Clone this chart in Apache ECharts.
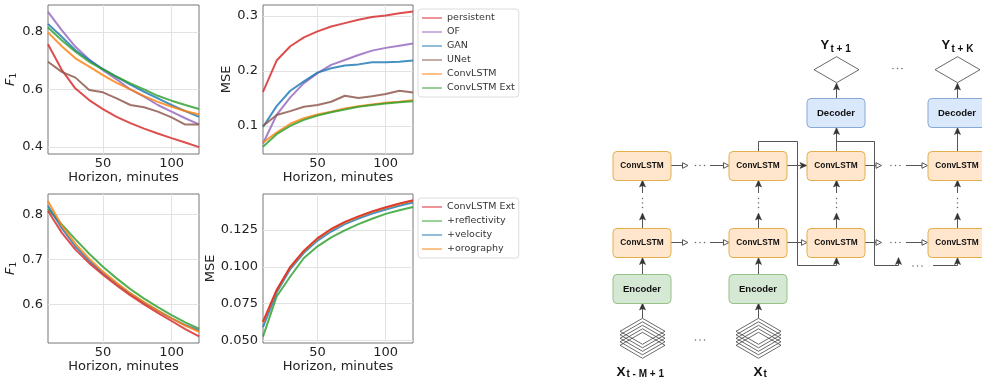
<!DOCTYPE html>
<html>
<head>
<meta charset="utf-8">
<script src="https://cdn.jsdelivr.net/npm/echarts@6/dist/echarts.min.js"></script>
<style>html,body{margin:0;padding:0;background:#fff;}#c{width:982px;height:380px;}</style>
</head>
<body>
<div id="c"></div>
<script>
// ---------------- DATA ----------------
const horizons = [10, 20, 30, 40, 50, 60, 70, 80, 90, 100, 110, 120];
const xTickValues = [50, 100];

const modelNames = ['persistent', 'OF', 'GAN', 'UNet', 'ConvLSTM', 'ConvLSTM Ext'];
const modelColors = ['#d62728', '#9467bd', '#1f77b4', '#8c564b', '#ff7f0e', '#2ca02c'];

const f1Persistent = [0.757, 0.668, 0.603, 0.563, 0.532, 0.505, 0.483, 0.464, 0.447, 0.431, 0.416, 0.400];
const f1OF         = [0.869, 0.806, 0.748, 0.704, 0.667, 0.635, 0.600, 0.575, 0.546, 0.523, 0.500, 0.479];
const f1GAN        = [0.827, 0.783, 0.736, 0.702, 0.671, 0.644, 0.617, 0.592, 0.569, 0.546, 0.525, 0.505];
const f1UNet       = [0.696, 0.661, 0.641, 0.598, 0.590, 0.569, 0.546, 0.538, 0.523, 0.503, 0.478, 0.478];
const f1ConvLSTM   = [0.798, 0.750, 0.708, 0.679, 0.650, 0.623, 0.600, 0.577, 0.557, 0.540, 0.525, 0.513];
const f1ConvExt    = [0.815, 0.771, 0.731, 0.696, 0.670, 0.644, 0.621, 0.600, 0.578, 0.561, 0.546, 0.532];

const msePersistent = [0.162, 0.219, 0.245, 0.261, 0.272, 0.281, 0.287, 0.293, 0.298, 0.301, 0.305, 0.308];
const mseOF         = [0.068, 0.120, 0.152, 0.178, 0.196, 0.211, 0.220, 0.229, 0.237, 0.242, 0.246, 0.250];
const mseGAN        = [0.098, 0.136, 0.164, 0.181, 0.197, 0.205, 0.210, 0.212, 0.216, 0.216, 0.217, 0.219];
const mseUNet       = [0.100, 0.120, 0.127, 0.135, 0.138, 0.144, 0.155, 0.151, 0.154, 0.158, 0.164, 0.161];
const mseConvLSTM   = [0.070, 0.088, 0.104, 0.114, 0.121, 0.126, 0.132, 0.136, 0.139, 0.142, 0.144, 0.147];
const mseConvExt    = [0.062, 0.085, 0.100, 0.111, 0.119, 0.125, 0.130, 0.135, 0.138, 0.141, 0.143, 0.145];

const ablationNames = ['ConvLSTM Ext', '+reflectivity', '+velocity', '+orography'];
const ablationColors = ['#d62728', '#2ca02c', '#1f77b4', '#ff7f0e'];

const f1AblExt   = [0.808, 0.760, 0.722, 0.692, 0.666, 0.642, 0.620, 0.600, 0.581, 0.563, 0.545, 0.529];
const f1AblRefl  = [0.813, 0.778, 0.745, 0.713, 0.684, 0.658, 0.634, 0.613, 0.594, 0.576, 0.560, 0.546];
const f1AblVel   = [0.820, 0.770, 0.729, 0.697, 0.670, 0.646, 0.624, 0.604, 0.586, 0.569, 0.554, 0.542];
const f1AblOro   = [0.830, 0.776, 0.735, 0.702, 0.673, 0.648, 0.625, 0.605, 0.586, 0.569, 0.553, 0.539];

const mseAblExt  = [0.0627, 0.0843, 0.1000, 0.1110, 0.1195, 0.1257, 0.1305, 0.1343, 0.1377, 0.1405, 0.1430, 0.1452];
const mseAblRefl = [0.0525, 0.0798, 0.0934, 0.1060, 0.1139, 0.1200, 0.1248, 0.1290, 0.1327, 0.1360, 0.1384, 0.1407];
const mseAblVel  = [0.0590, 0.0825, 0.0985, 0.1095, 0.1178, 0.1240, 0.1290, 0.1328, 0.1362, 0.1390, 0.1415, 0.1437];
const mseAblOro  = [0.0620, 0.0840, 0.0997, 0.1107, 0.1192, 0.1254, 0.1302, 0.1340, 0.1374, 0.1402, 0.1427, 0.1449];

const yTicksF1Top = [0.4, 0.6, 0.8];
const yTicksMseTop = [0.1, 0.2, 0.3];
const yTicksF1Bot = [0.6, 0.7, 0.8];
const yTicksMseBot = [0.050, 0.075, 0.100, 0.125];

// ---------------- CHART ----------------
const FONT = 'DejaVu Sans';
const grids = [
  {left: 48, top: 5, width: 151, height: 149},
  {left: 263, top: 5, width: 150, height: 149},
  {left: 48, top: 194, width: 151, height: 149},
  {left: 263, top: 194, width: 150, height: 149}
];
const yCfg = [
  {min: 0.376, max: 0.893, ticks: yTicksF1Top, dec: 1, f1: true, gap: 28},
  {min: 0.049, max: 0.320, ticks: yTicksMseTop, dec: 1, f1: false, gap: 27},
  {min: 0.514, max: 0.846, ticks: yTicksF1Bot, dec: 1, f1: true, gap: 28},
  {min: 0.0482, max: 0.1495, ticks: yTicksMseBot, dec: 3, f1: false, gap: 44}
];

function mkSeries(name, color, vals, gi, z) {
  return {
    type: 'line', name: name, xAxisIndex: gi, yAxisIndex: gi,
    data: horizons.map((h, i) => [h, vals[i]]),
    showSymbol: false, symbol: 'none', silent: true, z: z,
    color: color,
    lineStyle: {color: color, width: 2, opacity: 0.82},
    emphasis: {disabled: true}
  };
}

const series = [];
const topF1 = [f1Persistent, f1OF, f1GAN, f1UNet, f1ConvLSTM, f1ConvExt];
const topMse = [msePersistent, mseOF, mseGAN, mseUNet, mseConvLSTM, mseConvExt];
modelNames.forEach((n, i) => series.push(mkSeries(n, modelColors[i], topF1[i], 0, 2 + i)));
modelNames.forEach((n, i) => series.push(mkSeries(n, modelColors[i], topMse[i], 1, 2 + i)));
const botF1 = [f1AblExt, f1AblRefl, f1AblVel, f1AblOro];
const botMse = [mseAblExt, mseAblRefl, mseAblVel, mseAblOro];
const botZ = [9, 3, 4, 5];
ablationNames.forEach((n, i) => series.push(mkSeries(n, ablationColors[i], botF1[i], 2, botZ[i])));
ablationNames.forEach((n, i) => series.push(mkSeries(n, ablationColors[i], botMse[i], 3, botZ[i])));

const TXT = '#222';
const xAxes = grids.map((g, i) => ({
  type: 'value', gridIndex: i, min: 10, max: 120,
  axisLine: {show: false},
  axisTick: {show: false, customValues: xTickValues},
  axisLabel: {customValues: xTickValues, margin: 3, fontSize: 13, color: TXT, fontFamily: FONT},
  splitLine: {show: true, lineStyle: {color: '#e2e2e2', width: 1}},
  name: 'Horizon, minutes', nameLocation: 'middle', nameGap: 17,
  nameTextStyle: {fontSize: 13, color: TXT, fontFamily: FONT}
}));
const yAxes = yCfg.map((c, i) => ({
  type: 'value', gridIndex: i, min: c.min, max: c.max,
  axisLine: {show: false},
  axisTick: {show: false, customValues: c.ticks},
  axisLabel: {customValues: c.ticks, margin: 5, fontSize: 13, color: TXT, fontFamily: FONT,
    formatter: v => v.toFixed(c.dec)},
  splitLine: {show: true, lineStyle: {color: '#e2e2e2', width: 1}},
  name: c.f1 ? '{i|F}{s|1}' : 'MSE', nameLocation: 'middle', nameGap: c.gap,
  nameTextStyle: c.f1 ? {
    color: TXT, fontFamily: FONT,
    rich: {
      i: {fontSize: 13, fontStyle: 'italic', fontFamily: FONT, color: TXT, lineHeight: 16},
      s: {fontSize: 9, fontFamily: FONT, color: TXT, lineHeight: 9, verticalAlign: 'bottom', padding: [0, 0, 0, 0]}
    }
  } : {fontSize: 13, color: TXT, fontFamily: FONT}
}));

function mkLegend(names, colors, top) {
  return {
    orient: 'vertical', left: 418, top: top, padding: [3, 4, 3, 4],
    itemGap: 2, itemWidth: 20, itemHeight: 1.5, icon: 'rect',
    backgroundColor: '#fff', borderColor: '#dcdcdc', borderWidth: 1, borderRadius: 3,
    selectedMode: false,
    textStyle: {fontSize: 9.5, color: '#333', lineHeight: 12, fontFamily: FONT},
    data: names.map((n, i) => ({name: n, icon: 'rect', itemStyle: {color: colors[i], opacity: 0.65, borderWidth: 0}}))
  };
}

// ---------------- DIAGRAM (decoration) ----------------
const G = [];
const LC = '#555', HC = '#333';
function line(pts) { G.push({type: 'polyline', shape: {points: pts}, style: {stroke: LC, lineWidth: 1, fill: 'none'}, z: 1}); }
function headUp(x, y) { G.push({type: 'polygon', shape: {points: [[x, y], [x - 3, y + 7], [x, y + 5.5], [x + 3, y + 7]]}, style: {fill: HC, stroke: HC, lineWidth: 0.5}, z: 3}); }
function headRight(x, y, open) {
  if (open) G.push({type: 'polygon', shape: {points: [[x, y], [x - 5.5, y - 2.8], [x - 5.5, y + 2.8]]}, style: {fill: '#fff', stroke: LC, lineWidth: 1}, z: 3});
  else G.push({type: 'polygon', shape: {points: [[x, y], [x - 7, y - 3], [x - 5.5, y], [x - 7, y + 3]]}, style: {fill: HC, stroke: HC, lineWidth: 0.5}, z: 3});
}
function dotsH(x, y) { for (let i = 0; i < 3; i++) G.push({type: 'circle', shape: {cx: x + i * 4.5, cy: y, r: 0.75}, style: {fill: '#666'}, z: 2}); }
function dotsV(x, y) { for (let i = 0; i < 3; i++) G.push({type: 'circle', shape: {cx: x, cy: y + i * 4.5, r: 0.75}, style: {fill: '#666'}, z: 2}); }
function txt(x, y, s, size, align) {
  G.push({type: 'text', x: x, y: y, z: 6, style: {text: s, font: 'bold ' + size + 'px "Liberation Sans", Arial, sans-serif', fontWeight: 'bold', fontSize: size, fontFamily: '"Liberation Sans", Arial, sans-serif', fill: '#111', align: align || 'center', textAlign: align || 'center', verticalAlign: 'middle', textVerticalAlign: 'middle'}});
}
function box(cx, y, fill, stroke, label, fs) {
  G.push({type: 'rect', shape: {x: cx - 29, y: y + 0.5, width: 58, height: 29, r: 4}, style: {fill: fill, stroke: stroke, lineWidth: 1}, z: 5});
  txt(cx, y + 15, label, fs);
}
function diamond(cx, cy) {
  G.push({type: 'polygon', shape: {points: [[cx, cy - 13], [cx + 22.5, cy], [cx, cy + 13], [cx - 22.5, cy]]}, style: {fill: 'none', stroke: '#444', lineWidth: 0.8}, z: 2});
}

const colX = [642, 758, 836, 957];
const rowTop = 151, rowBot = 228, encY = 274, decY = 98;
const CLF = '#ffe6cc', CLS = '#e2b04a';
colX.forEach((c, i) => {
  box(c, rowTop, CLF, CLS, 'ConvLSTM', 8.3);
  box(c, rowBot, CLF, CLS, 'ConvLSTM', 8.3);
  line([[c + 0.5, 228], [c + 0.5, 215]]); headUp(c + 0.5, 213);
  dotsV(c + 0.5, 198.5);
  line([[c + 0.5, 193], [c + 0.5, 182]]); headUp(c + 0.5, 180);
  if (i < 2) {
    box(c, encY, '#d5e8d4', '#97c186', 'Encoder', 9.5);
    line([[c + 0.5, 318], [c + 0.5, 305]]); headUp(c + 0.5, 303);
    line([[c + 0.5, 274], [c + 0.5, 259]]); headUp(c + 0.5, 257.5);
    for (let k = 4; k >= 0; k--) diamond(c + 0.5, 331.3 + k * 3.5);
  } else {
    box(c, decY, '#dae8fc', '#87a7d6', 'Decoder', 9.5);
    line([[c + 0.5, 151], [c + 0.5, 129]]); headUp(c + 0.5, 127.5);
    line([[c + 0.5, 98], [c + 0.5, 85]]); headUp(c + 0.5, 83);
    diamond(c + 0.5, 69.7);
  }
});
[165.5, 242.5].forEach(r => {
  line([[671, r], [687, r]]); headRight(688, r, true);
  dotsH(695.5, r);
  line([[710, r], [723, r]]); headRight(729, r, true);
  line([[787, r], [801, r]]); headRight(807, r, r > 200);
  line([[865, r], [876, r]]); headRight(881.5, r, true);
  dotsH(891, r);
  line([[906, r], [922, r]]); headRight(927.5, r, true);
});
// recurrent skip lines
line([[758.5, 151], [758.5, 141.5], [797.5, 141.5], [797.5, 265.5], [836.5, 265.5], [836.5, 259]]); headUp(836.5, 257.5);
line([[836.5, 141.5], [874.5, 141.5], [874.5, 265.5], [898.5, 265.5], [898.5, 259]]); headUp(898.5, 257.5);
dotsH(913, 266);
line([[933, 265.5], [957.5, 265.5], [957.5, 259]]); headUp(957.5, 257.5);
dotsH(893, 68.5);
dotsH(695.5, 340);
// labels
txt(820.5, 45.5, 'Y', 13, 'left');
txt(830.5, 49.5, 't + 1', 10, 'left');
txt(941.5, 45.5, 'Y', 13, 'left');
txt(951.5, 49.5, 't + K', 10, 'left');
txt(616.5, 372.5, 'X', 13.5, 'left');
txt(626.5, 374.5, 't - M + 1', 10, 'left');
txt(753.5, 372.5, 'X', 13.5, 'left');
txt(763.5, 374.5, 't', 10, 'left');

const option = {
  animation: false,
  backgroundColor: '#fff',
  textStyle: {fontFamily: FONT},
  grid: grids.map(g => Object.assign({show: true, borderColor: '#777', borderWidth: 1, backgroundColor: 'transparent', containLabel: false}, g)),
  xAxis: xAxes,
  yAxis: yAxes,
  legend: [mkLegend(modelNames, modelColors, 9), mkLegend(ablationNames, ablationColors, 198)],
  series: series,
  graphic: {elements: G}
};
const chart = echarts.init(document.getElementById('c'), null, {renderer: 'canvas'});
chart.setOption(option);
</script>
</body>
</html>
